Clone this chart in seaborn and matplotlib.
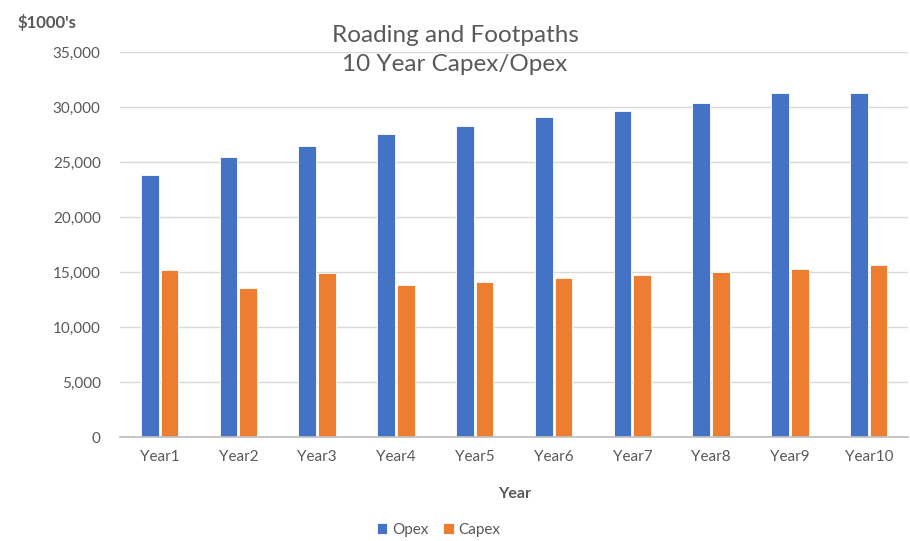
import pandas as pd
import matplotlib.pyplot as plt
import seaborn as sns

# --- data ($1000's) ---
years = ["Year1", "Year2", "Year3", "Year4", "Year5",
         "Year6", "Year7", "Year8", "Year9", "Year10"]
opex = [23850, 25450, 26480, 27550, 28330, 29120, 29660, 30450, 31270, 31270]
capex = [15180, 13570, 14900, 13850, 14090, 14480, 14750, 15030, 15270, 15660]

df = pd.DataFrame({"Year": years * 2,
                   "Value": opex + capex,
                   "Series": ["Opex"] * len(years) + ["Capex"] * len(years)})

sns.set_theme(style="white")
plt.rcParams['font.family'] = ['Lato', 'DejaVu Sans']

grey = "#595959"
fig = plt.figure(figsize=(9.1, 5.41), dpi=100)
ax = fig.add_axes([0.132, 0.1917, 0.866, 0.7113])

sns.barplot(data=df, x="Year", y="Value", hue="Series", order=years,
            hue_order=["Opex", "Capex"],
            palette={"Opex": "#4472C4", "Capex": "#ED7D31"}, saturation=1,
            width=0.5, gap=0.1, edgecolor="white", linewidth=0.6, ax=ax)

ax.set_ylim(0, 35000)
ax.set_yticks(range(0, 35001, 5000))
ax.set_yticklabels([f"{v:,}" for v in range(0, 35001, 5000)])
ax.yaxis.grid(True, color="#D9D9D9", linewidth=1)
ax.set_axisbelow(True)
for s in ["top", "right", "left"]:
    ax.spines[s].set_visible(False)
ax.spines["bottom"].set_color("#BFBFBF")
ax.tick_params(axis="both", length=0, labelsize=11, colors=grey, pad=9)
ax.tick_params(axis="y", pad=14)

ax.set_xlabel("Year", fontsize=11.5, fontweight="bold", color=grey, labelpad=17)
ax.set_ylabel("")

fig.text(0.019, 0.958, "$1000's", fontsize=12, fontweight="bold", color=grey,
         ha="left", va="center")
fig.text(0.5, 0.908, "Roading and Footpaths\n10 Year Capex/Opex", fontsize=17.5,
         color=grey, ha="center", va="center", linespacing=1.45)

ax.get_legend().remove()
handles, labels = ax.get_legend_handles_labels()
fig.legend(handles, labels, loc="center", bbox_to_anchor=(0.482, 0.02),
           ncol=2, frameon=False, fontsize=11, handlelength=0.7, handleheight=0.7,
           columnspacing=1.0, handletextpad=0.3, labelcolor=grey)

fig.savefig("out.png", dpi=100)
